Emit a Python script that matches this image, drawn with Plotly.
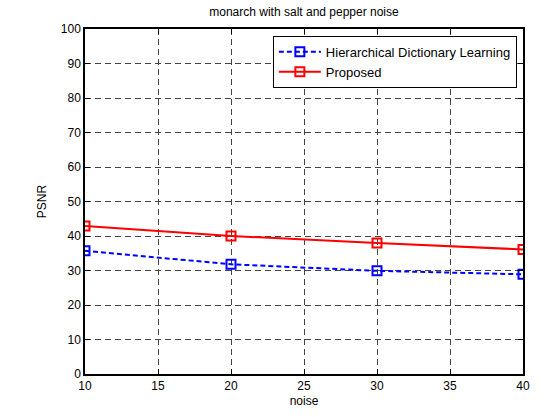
import plotly.graph_objects as go

noise = [10, 20, 30, 40]
hdl_psnr = [35.7, 31.8, 29.9, 28.9]
proposed_psnr = [42.9, 40.0, 38.0, 36.1]
x_ticks = [10, 15, 20, 25, 30, 35, 40]
y_ticks = [0, 10, 20, 30, 40, 50, 60, 70, 80, 90, 100]

FONT = "Liberation Sans, Arial"

fig = go.Figure()
fig.add_trace(go.Scatter(
    x=noise, y=hdl_psnr, mode="lines+markers", name="Hierarchical Dictionary Learning",
    line=dict(color="#0000ff", width=2, dash="5px,3px"),
    marker=dict(symbol="square-open", size=9, color="#0000ff", line=dict(width=2)),
))
fig.add_trace(go.Scatter(
    x=noise, y=proposed_psnr, mode="lines+markers", name="Proposed",
    line=dict(color="#ff0000", width=2),
    marker=dict(symbol="square-open", size=9, color="#ff0000", line=dict(width=2)),
))

axis_common = dict(
    showline=True, linecolor="black", linewidth=1.5, mirror="ticks",
    ticks="inside", ticklen=5, tickcolor="black",
    showgrid=True, gridcolor="#444444", gridwidth=1, griddash="6px,4px",
    zeroline=False, tickfont=dict(family=FONT, size=12, color="black"),
)

fig.update_xaxes(range=[10, 40], tickvals=x_ticks, automargin=False,
                 title=dict(text="noise", font=dict(size=12, family=FONT, color="black"), standoff=4),
                 **axis_common)
fig.update_yaxes(range=[0, 100], tickvals=y_ticks, automargin=False,
                 title=dict(text="PSNR", font=dict(size=12, family=FONT, color="black"), standoff=12),
                 **axis_common)

fig.update_layout(
    width=557, height=417,
    margin=dict(l=85, r=34, t=29, b=43),
    paper_bgcolor="white", plot_bgcolor="white",
    title=dict(text="monarch with salt and pepper noise", x=0.5, xanchor="center", xref="paper",
               y=1 - 12/417, yanchor="middle",
               font=dict(size=12, family=FONT, color="black")),
    legend=dict(x=0.986, xanchor="right", y=0.98, yanchor="top", bgcolor="white",
                bordercolor="black", borderwidth=1,
                font=dict(size=13, family=FONT, color="black"),
                tracegroupgap=0, itemwidth=42),
    showlegend=True,
)

fig.write_html("out.html", config={"displayModeBar": False},
               post_script="document.body.style.margin='0';")
